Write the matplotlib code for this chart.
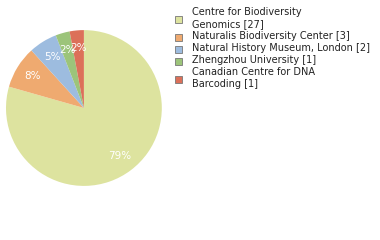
import matplotlib
matplotlib.use('Agg')
import matplotlib.pyplot as plt
from matplotlib.patches import Rectangle

# data
labels = ['Centre for Biodiversity\nGenomics [27]',
          'Naturalis Biodiversity Center [3]',
          'Natural History Museum, London [2]',
          'Zhengzhou University [1]',
          'Canadian Centre for DNA\nBarcoding [1]']
counts = [27, 3, 2, 1, 1]
colors = ['#dde39f', '#efaa70', '#9dbcdf', '#9cc47a', '#dc7059']

fig = plt.figure(figsize=(3.8, 2.4), dpi=100)
ax = fig.add_axes([0.0158, 0.225, 0.41, 0.65])

def pct(p):
    return '%d%%' % int(p)

wedges, texts, autotexts = ax.pie(counts, colors=colors, startangle=90,
                                  counterclock=False, autopct=pct,
                                  pctdistance=0.77,
                                  wedgeprops=dict(linewidth=0))
for t in autotexts:
    t.set_color('white')
    t.set_fontsize(7.5)
ax.set_xlim(-1, 1)
ax.set_ylim(-1, 1)
ax.set_aspect('equal')
ax.axis('off')

# legend
y = 13
W, H = 380, 240
for lab, col in zip(labels, colors):
    nlines = lab.count('\n') + 1
    ymid = y + (nlines - 1) * 6
    fig.patches.append(Rectangle((175 / W, 1 - (ymid + 4) / H), 7 / W, 7 / H,
                                 transform=fig.transFigure, facecolor=col,
                                 edgecolor='#777777', linewidth=0.6))
    fig.text(192 / W, 1 - (y - 6) / H, lab, fontsize=7, va='top',
             ha='left', linespacing=1.2, color='#222222')
    y += 12 * nlines

fig.savefig('out.png', dpi=100)
